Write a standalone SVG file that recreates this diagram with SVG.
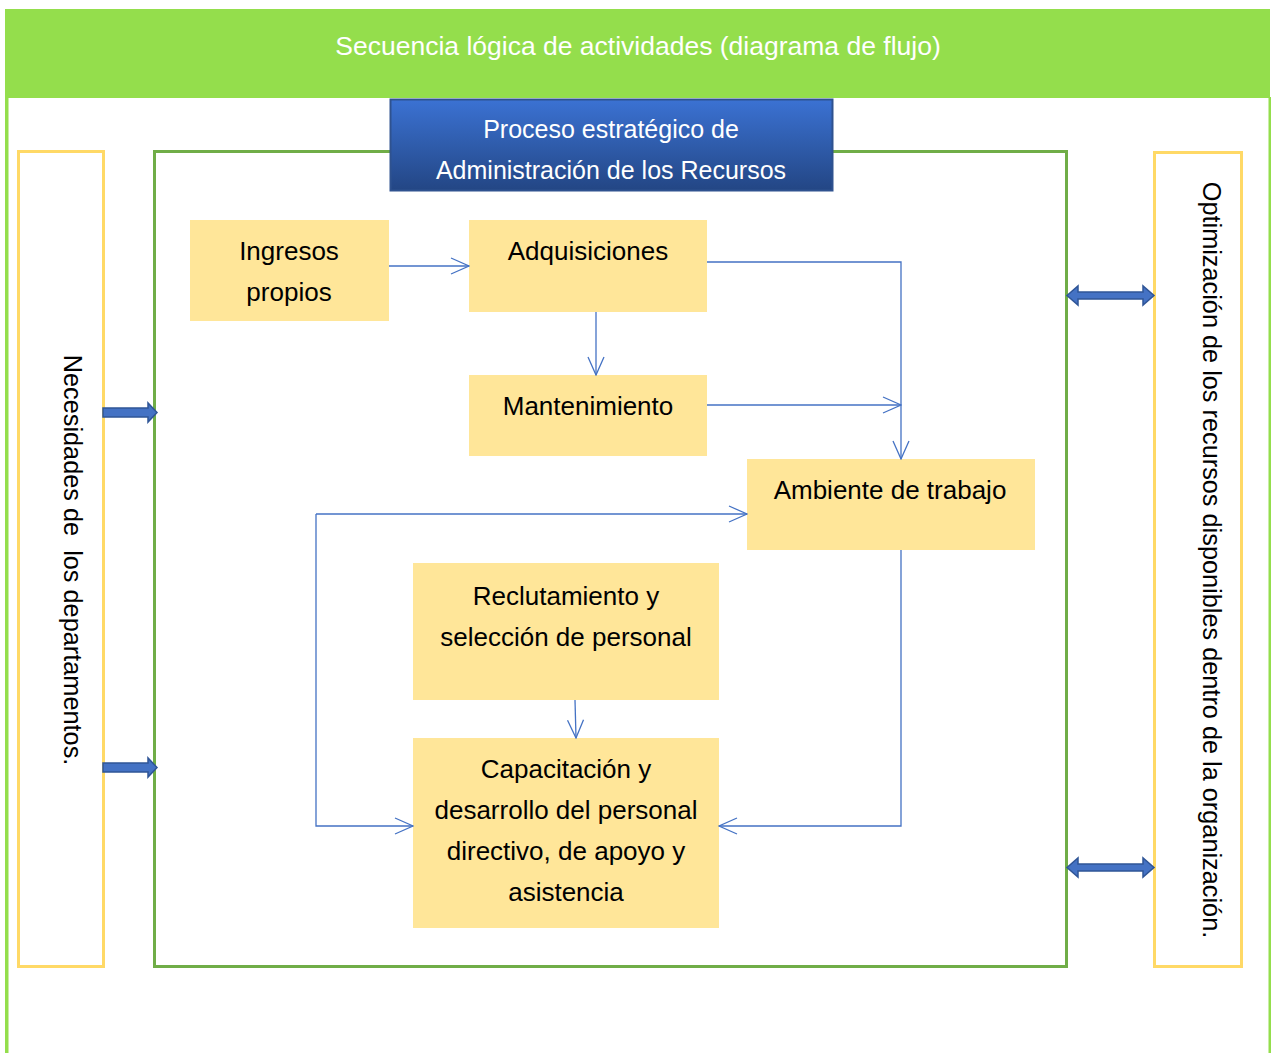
<svg xmlns="http://www.w3.org/2000/svg" width="1271" height="1053" viewBox="0 0 1271 1053">
<defs>
<linearGradient id="blueGrad" x1="0" y1="0" x2="0" y2="1">
<stop offset="0" stop-color="#3B72D3"/>
<stop offset="1" stop-color="#234684"/>
</linearGradient>
<marker id="open" viewBox="0 0 20 20" refX="19" refY="10" markerWidth="20" markerHeight="20" markerUnits="userSpaceOnUse" orient="auto">
<path d="M1,2 L19,10 L1,18" fill="none" stroke="#4472C4" stroke-width="1.3"/>
</marker>
<style>
.node{fill:#FFE699;}
.t{font-family:"Liberation Sans",Arial,sans-serif;font-size:26px;fill:#000;text-anchor:middle;}
.w{font-family:"Liberation Sans",Arial,sans-serif;font-size:25px;fill:#fff;text-anchor:middle;}
.h{font-family:"Liberation Sans",Arial,sans-serif;font-size:26.5px;fill:#fff;text-anchor:middle;}
.v{font-family:"Liberation Sans",Arial,sans-serif;font-size:25.3px;fill:#000;text-anchor:middle;white-space:pre;}
.conn{fill:none;stroke:#4472C4;stroke-width:1.3;}
.blk{fill:#4472C4;stroke:#2F5597;stroke-width:1.5;}
</style>
</defs>
<rect width="1271" height="1053" fill="#fff"/>
<g id="frame">
<rect x="5" y="9" width="1265" height="89" fill="#94DE4C"/>
<rect x="5" y="97" width="3.5" height="956" fill="#94DE4C"/>
<rect x="1268.5" y="97" width="2.5" height="956" fill="#94DE4C"/>
<text class="h" x="638" y="55">Secuencia lógica de actividades (diagrama de flujo)</text>
</g>
<g id="left-panel">
<rect x="18.5" y="151.5" width="85" height="815" fill="none" stroke="#FFD966" stroke-width="3"/>
<text class="v" xml:space="preserve" transform="translate(64,560) rotate(90)">Necesidades de  los departamentos.</text>
</g>
<g id="main-panel">
<rect x="154.5" y="151.5" width="912" height="815" fill="none" stroke="#70AD47" stroke-width="3"/>
</g>
<g id="right-panel">
<rect x="1154.5" y="152.5" width="87" height="814" fill="none" stroke="#FFD966" stroke-width="3"/>
<text class="v" transform="translate(1203,560) rotate(90)">Optimización de los recursos disponibles dentro de la organización.</text>
</g>
<g id="title">
<rect x="390.5" y="99.5" width="442" height="91" fill="url(#blueGrad)" stroke="#2F528F" stroke-width="2"/>
<text class="w" x="611" y="138">Proceso estratégico de</text>
<text class="w" x="611" y="179">Administración de los Recursos</text>
</g>
<g id="ingresos">
<rect class="node" x="190" y="220" width="199" height="101"/>
<text class="t" x="289" y="260">Ingresos</text>
<text class="t" x="289" y="301">propios</text>
</g>
<g id="adquisiciones">
<rect class="node" x="469" y="220" width="238" height="92"/>
<text class="t" x="588" y="260">Adquisiciones</text>
</g>
<g id="mantenimiento">
<rect class="node" x="469" y="375" width="238" height="81"/>
<text class="t" x="588" y="415">Mantenimiento</text>
</g>
<g id="ambiente">
<rect class="node" x="747" y="459" width="288" height="91"/>
<text class="t" x="890" y="499">Ambiente de trabajo</text>
</g>
<g id="reclutamiento">
<rect class="node" x="413" y="563" width="306" height="137"/>
<text class="t" x="566" y="605">Reclutamiento y</text>
<text class="t" x="566" y="646">selección de personal</text>
</g>
<g id="capacitacion">
<rect class="node" x="413" y="738" width="306" height="190"/>
<text class="t" x="566" y="778">Capacitación y</text>
<text class="t" x="566" y="819">desarrollo del personal</text>
<text class="t" x="566" y="860">directivo, de apoyo y</text>
<text class="t" x="566" y="901">asistencia</text>
</g>
<g id="connectors">
<path class="conn" d="M389,266 H469" marker-end="url(#open)"/>
<path class="conn" d="M596,312 V375" marker-end="url(#open)"/>
<path class="conn" d="M707,262 H901 V459" marker-end="url(#open)"/>
<path class="conn" d="M707,405 H901" marker-end="url(#open)"/>
<path class="conn" d="M901,550 V826 H719" marker-end="url(#open)"/>
<path class="conn" d="M316,514 H747" marker-end="url(#open)"/>
<path class="conn" d="M316,514 V826 H413" marker-end="url(#open)"/>
<path class="conn" d="M575,700 L576,738" marker-end="url(#open)"/>
<path class="blk" d="M103,408 H148 V403 L157,412.5 L148,422 V417 H103 Z"/>
<path class="blk" d="M103,763 H148 V758 L157,767.5 L148,777 V772 H103 Z"/>
<path class="blk" d="M1067,295.5 L1078,286 V292 H1143 V286 L1154,295.5 L1143,305 V299 H1078 V305 Z"/>
<path class="blk" d="M1067,867.5 L1078,858 V864 H1143 V858 L1154,867.5 L1143,877 V871 H1078 V877 Z"/>
</g>
</svg>
